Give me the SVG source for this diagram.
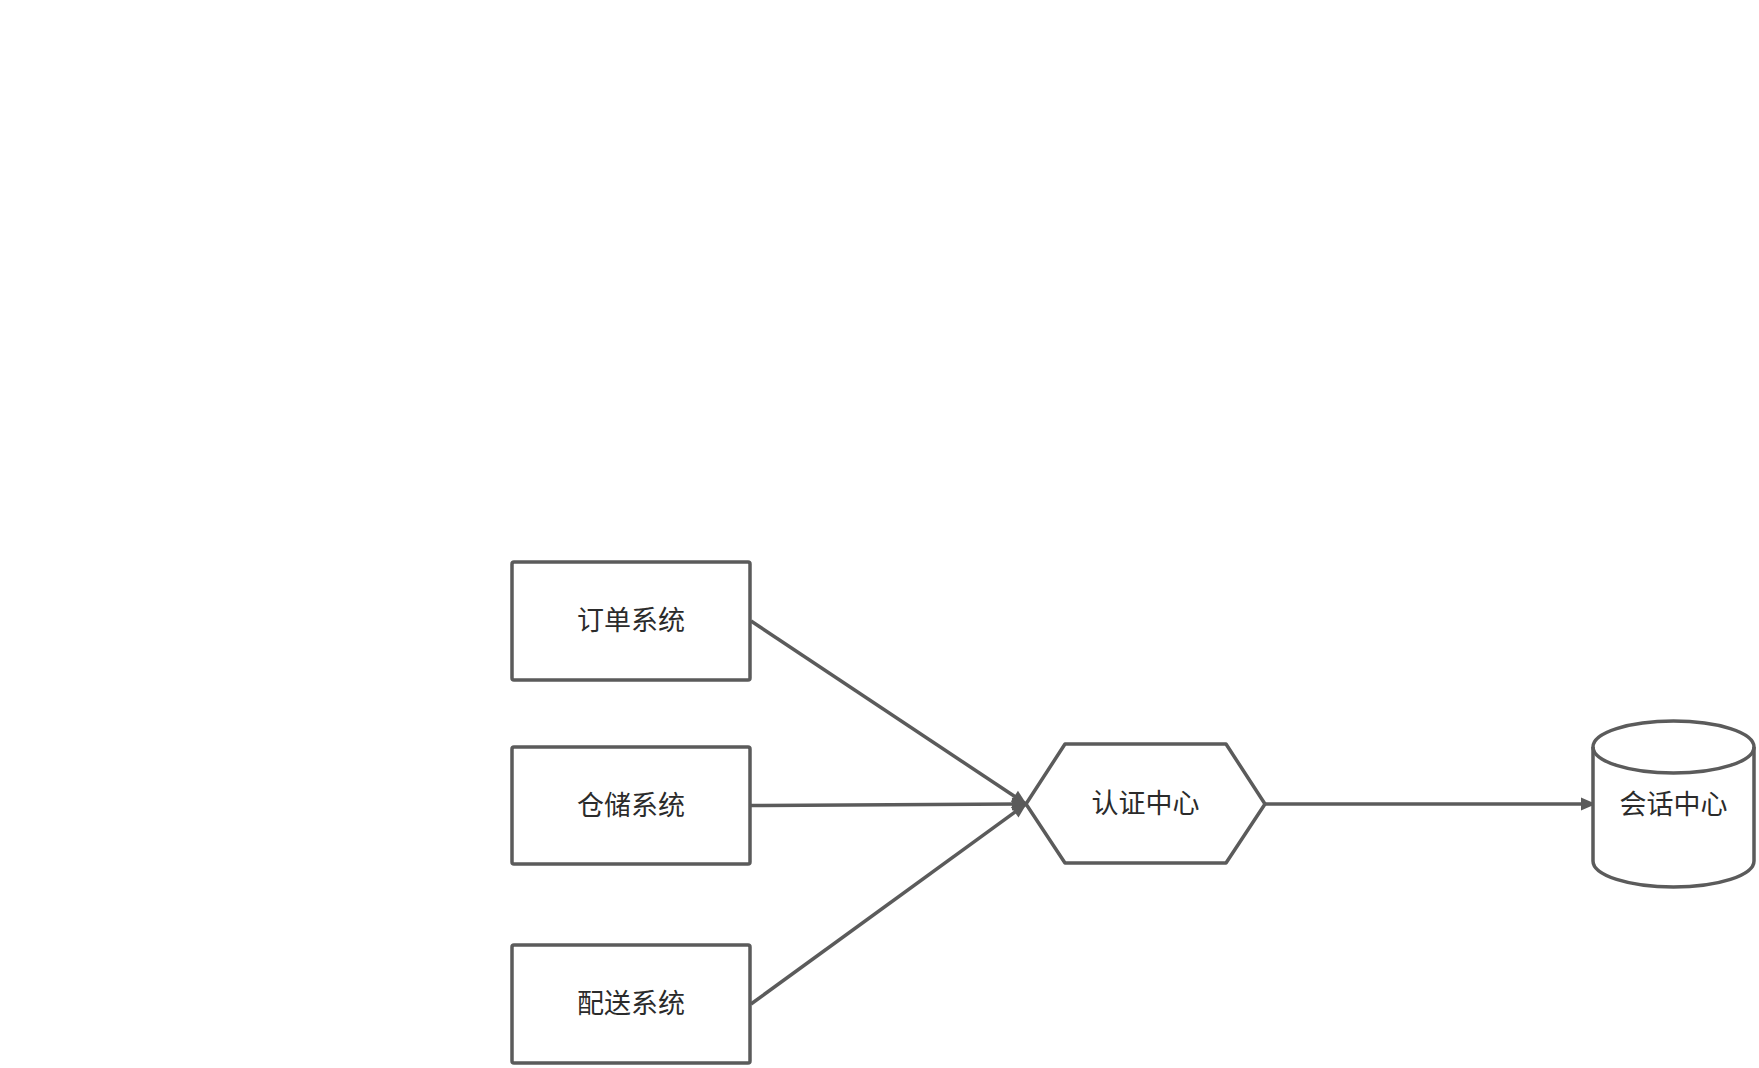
<svg xmlns="http://www.w3.org/2000/svg" width="1759" height="1068" viewBox="0 0 1759 1068">
<style>
.n{fill:#fff;stroke:#5b5b5b;stroke-width:3.5;stroke-linejoin:round}
.t{font-family:"Liberation Sans","Noto Sans CJK SC",sans-serif;font-size:27px;fill:#2b2b2b;text-anchor:middle;dominant-baseline:central}
.e{fill:none;stroke:#5b5b5b;stroke-width:3.5}
</style>
<defs>
<marker id="a" markerUnits="userSpaceOnUse" markerWidth="18" markerHeight="18" refX="15" refY="9" orient="auto">
<path d="M1,2.5 L16,9 L1,15.5 Z" fill="#5b5b5b"/>
</marker>
</defs>
<rect width="1759" height="1068" fill="#fff"/>
<g id="edges">
<line class="e" x1="751" y1="621" x2="1026" y2="804" marker-end="url(#a)"/>
<line class="e" x1="751" y1="805.5" x2="1026" y2="804" marker-end="url(#a)"/>
<line class="e" x1="751" y1="1004" x2="1026" y2="804" marker-end="url(#a)"/>
<line class="e" x1="1265" y1="804" x2="1595" y2="804" marker-end="url(#a)"/>
</g>
<g id="order">
<rect class="n" x="512" y="562" width="238" height="118" rx="2"/>
<text class="t" x="631" y="621">订单系统</text>
</g>
<g id="warehouse">
<rect class="n" x="512" y="747" width="238" height="117" rx="2"/>
<text class="t" x="631" y="805.5">仓储系统</text>
</g>
<g id="delivery">
<rect class="n" x="512" y="945" width="238" height="118" rx="2"/>
<text class="t" x="631" y="1004">配送系统</text>
</g>
<g id="auth">
<polygon class="n" points="1026,804 1065,744 1226,744 1265,804 1226,863 1065,863"/>
<text class="t" x="1145.5" y="804">认证中心</text>
</g>
<g id="session">
<path class="n" d="M1593,747 L1593,861 A80.5,26 0 0 0 1754,861 L1754,747 A80.5,26 0 0 0 1593,747 Z"/>
<path class="e" d="M1593,747 A80.5,26 0 0 0 1754,747"/>
<text class="t" x="1673.5" y="805">会话中心</text>
</g>
</svg>
